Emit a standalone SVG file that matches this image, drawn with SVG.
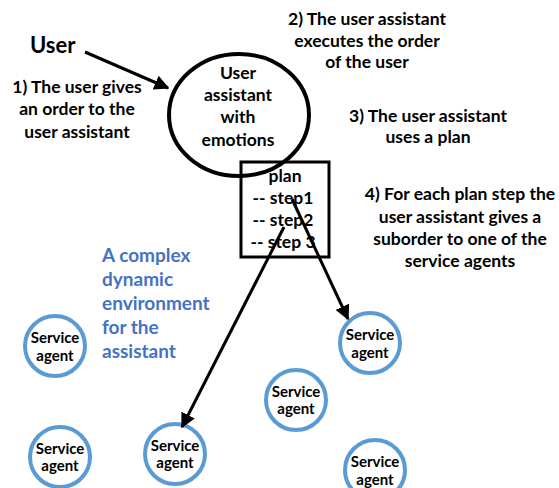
<svg xmlns="http://www.w3.org/2000/svg" width="559" height="488" viewBox="0 0 559 488">
  <defs>
    <marker id="arrow" viewBox="0 0 10 10" refX="9" refY="5" markerWidth="5" markerHeight="5" orient="auto" markerUnits="strokeWidth">
      <path d="M0,0 L10,5 L0,10 z" fill="#000"/>
    </marker>
    <style>
      text { font-family: "Lato", "Open Sans", "Liberation Sans", sans-serif; font-weight: bold; fill: #000; }
      .lbl { font-size: 17.5px; text-anchor: middle; }
      .title { font-size: 22px; }
      .env { font-size: 19px; fill: #4472C4; }
      .agent circle { fill: #fff; stroke: #5B9BD5; stroke-width: 4; }
      .agent text { font-size: 15px; text-anchor: middle; }
      .conn line { stroke: #000; stroke-width: 3; marker-end: url(#arrow); }
    </style>
  </defs>
  <rect width="559" height="488" fill="#fff"/>

  <!-- free text -->
  <text class="title" x="30" y="53">User</text>
  <g>
    <text class="lbl" x="77" y="93">1) The user gives</text>
    <text class="lbl" x="77" y="115">an order to the</text>
    <text class="lbl" x="77" y="138">user assistant</text>

    <text class="lbl" x="367" y="25">2) The user assistant</text>
    <text class="lbl" x="367" y="47">executes the order</text>
    <text class="lbl" x="367" y="68">of the user</text>

    <text class="lbl" x="428" y="122">3) The user assistant</text>
    <text class="lbl" x="428" y="143">uses a plan</text>

    <text class="lbl" x="460" y="200">4) For each plan step the</text>
    <text class="lbl" x="460" y="223">user assistant gives a</text>
    <text class="lbl" x="460" y="245">suborder to one of the</text>
    <text class="lbl" x="460" y="267">service agents</text>
  </g>
  <g>
    <text class="env" x="102" y="262">A complex</text>
    <text class="env" x="102" y="286">dynamic</text>
    <text class="env" x="102" y="310">environment</text>
    <text class="env" x="102" y="334">for the</text>
    <text class="env" x="102" y="358">assistant</text>
  </g>

  <!-- user assistant -->
  <g id="assistant">
    <ellipse cx="239" cy="115" rx="70" ry="61" fill="none" stroke="#000" stroke-width="4"/>
    <text class="lbl" x="238" y="79">User</text>
    <text class="lbl" x="238" y="101">assistant</text>
    <text class="lbl" x="238" y="123">with</text>
    <text class="lbl" x="238" y="146">emotions</text>
  </g>

  <!-- plan -->
  <g id="plan">
    <rect x="241" y="162" width="88" height="95" fill="none" stroke="#000" stroke-width="3"/>
    <text class="lbl" x="285" y="182">plan</text>
    <text class="lbl" x="283" y="204">-- step1</text>
    <text class="lbl" x="283" y="226">-- step2</text>
    <text class="lbl" x="283" y="248">-- step 3</text>
  </g>

  <!-- service agents -->
  <g id="agent1" class="agent">
    <circle cx="55" cy="346" r="30"/>
    <text x="55" y="343">Service</text>
    <text x="55" y="361">agent</text>
  </g>
  <g id="agent2" class="agent">
    <circle cx="60" cy="457" r="30"/>
    <text x="60" y="454">Service</text>
    <text x="60" y="471">agent</text>
  </g>
  <g id="agent3" class="agent">
    <circle cx="175" cy="454" r="30"/>
    <text x="175" y="451">Service</text>
    <text x="175" y="468">agent</text>
  </g>
  <g id="agent4" class="agent">
    <circle cx="370" cy="343" r="30"/>
    <text x="370" y="340">Service</text>
    <text x="370" y="358">agent</text>
  </g>
  <g id="agent5" class="agent">
    <circle cx="296" cy="400" r="30"/>
    <text x="296" y="397">Service</text>
    <text x="296" y="414">agent</text>
  </g>
  <g id="agent6" class="agent">
    <circle cx="375" cy="470" r="30"/>
    <text x="375" y="467">Service</text>
    <text x="375" y="485">agent</text>
  </g>

  <!-- connectors -->
  <g id="connectors" class="conn">
    <line x1="85" y1="52" x2="168" y2="88"/>
    <line x1="292" y1="199" x2="348" y2="319"/>
    <line x1="284" y1="227" x2="182" y2="427"/>
  </g>
</svg>
